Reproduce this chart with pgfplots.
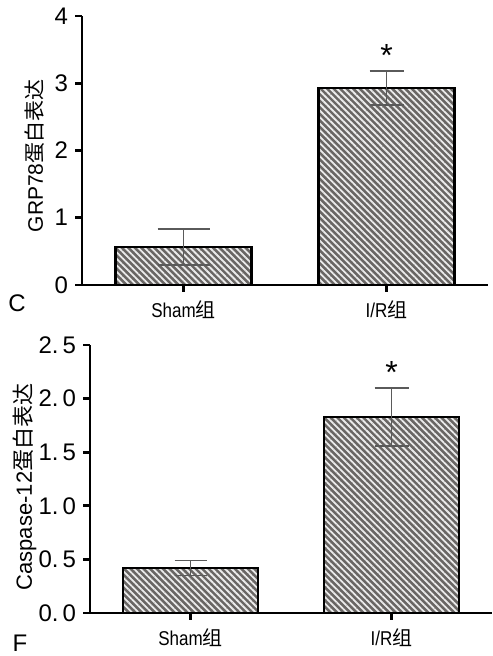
\documentclass[border=0pt]{standalone}
\usepackage{pgfplots}
\pgfplotsset{compat=1.18}
\usepackage{fontspec}
\setmainfont{Liberation Sans}
\newfontfamily\narrow{Liberation Sans}[FakeStretch=0.85]
\newfontfamily\cjk{Noto Sans CJK SC}
\usetikzlibrary{patterns.meta}
\definecolor{barfill}{RGB}{105,102,100}
\definecolor{errgray}{RGB}{90,90,90}

\pgfplotsset{
  panel/.style={
    scale only axis,
    width=203pt, height=134.5pt,
    axis lines=left, axis line style={line width=1.4pt, -},
    xmin=0, xmax=4,
    xtick={1,3}, xticklabels={Sham{\cjk 组}, I/R{\cjk 组}},
    x tick label style={font=\narrow\fontsize{10}{11}\selectfont, yshift=-1pt},
    y tick label style={font=\fontsize{12}{13}\selectfont},
    tick style={line width=1.4pt, black},
    major tick length=3.5pt,
    tick align=outside,
    xtick pos=bottom, ytick pos=left,
    /pgf/number format/assume math mode=true,
    clip=false,
  },
  hbar/.style={
    ybar, bar width=1.34, bar shift=0pt,
    draw=black, line width=1.2pt, fill=barfill,
    postaction={pattern={Lines[angle=-45,distance=2.3pt,line width=0.9pt]}, pattern color=white!92!black},
    error bars/y dir=both, error bars/y explicit,
    error bars/error bar style={errgray, line width=0.9pt},
  },
  caps/.style={error bars/error mark options={rotate=90, mark size=#1, errgray, line width=0.9pt}},
}

\begin{document}
\begin{tikzpicture}
\path[use as bounding box] (0,0) rectangle (246pt,328pt);

\begin{axis}[panel, at={(41pt,185.5pt)}, anchor=origin,
  ymin=0, ymax=4, ytick={0,1,2,3,4},
  ylabel={GRP78{\cjk 蛋白表达}},
  ylabel style={font=\fontsize{10.5}{12}\selectfont, at={(axis description cs:-0.116,0.48)}, anchor=center},
]
\addplot[hbar, caps=13pt] coordinates {(1,0.565) +- (0,0.27)};
\addplot[hbar, caps=8.5pt] coordinates {(3,2.93) +- (0,0.25)};
\node[font=\fontsize{16}{16}\selectfont] at (axis cs:3,3.42) {*};
\end{axis}

\begin{axis}[panel, at={(45pt,21.5pt)}, anchor=origin, width=201pt, height=134pt,
  ymin=0, ymax=2.5, ytick={0,0.5,1,1.5,2,2.5},
  yticklabels={0.\,0,0.\,5,1.\,0,1.\,5,2.\,0,2.\,5},
  ylabel={Caspase-12{\cjk 蛋白表达}},
  ylabel style={font=\fontsize{11}{12}\selectfont, at={(axis description cs:-0.162,0.47)}, anchor=center},
]
\addplot[hbar, caps=8pt] coordinates {(1,0.42) +- (0,0.07)};
\addplot[hbar, caps=8.5pt] coordinates {(3,1.83) +- (0,0.27)};
\node[font=\fontsize{16}{16}\selectfont] at (axis cs:3,2.24) {*};
\end{axis}

\node[font=\fontsize{12}{13}\selectfont] at (8.5pt,176.5pt) {C};
\node[font=\fontsize{12}{13}\selectfont] at (10pt,6.5pt) {F};
\end{tikzpicture}
\end{document}
